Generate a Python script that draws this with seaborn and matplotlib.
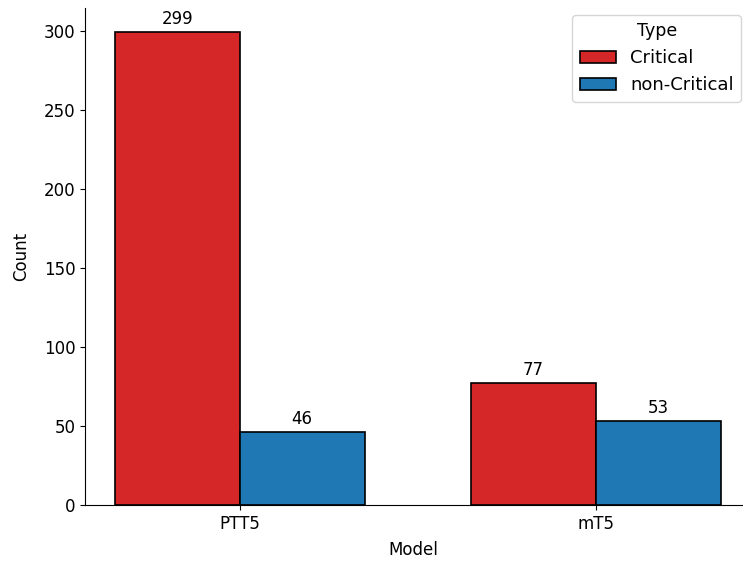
import pandas as pd
import seaborn as sns
import matplotlib.pyplot as plt

models = ['PTT5', 'PTT5', 'mT5', 'mT5']
types = ['Critical', 'non-Critical', 'Critical', 'non-Critical']
counts = [299, 46, 77, 53]

df = pd.DataFrame({'Model': models, 'Type': types, 'Count': counts})

plt.rcParams['font.size'] = 12
fig, ax = plt.subplots(figsize=(7.43, 5.61), dpi=100)
sns.barplot(x='Model', y='Count', hue='Type', data=df,
            palette={'Critical': '#d62728', 'non-Critical': '#1f77b4'},
            edgecolor='black', linewidth=1.2, saturation=1, width=0.7, ax=ax)
for c in ax.containers:
    ax.bar_label(c, padding=3, fontsize=12)
sns.despine()
ax.legend(title='Type', loc='upper right', fontsize=13, title_fontsize=12.5,
          bbox_to_anchor=(741 / 743, 1 - 15 / 561), bbox_transform=fig.transFigure,
          borderaxespad=0)
ax.set_ylim(0, 314)
ax.set_xlim(-0.434, 1.409)
ax.set_ylabel('Count', labelpad=10)
ax.set_xlabel('Model', labelpad=6)
plt.subplots_adjust(left=0.115, right=0.998, top=0.985, bottom=0.1)
plt.savefig('out.png')
